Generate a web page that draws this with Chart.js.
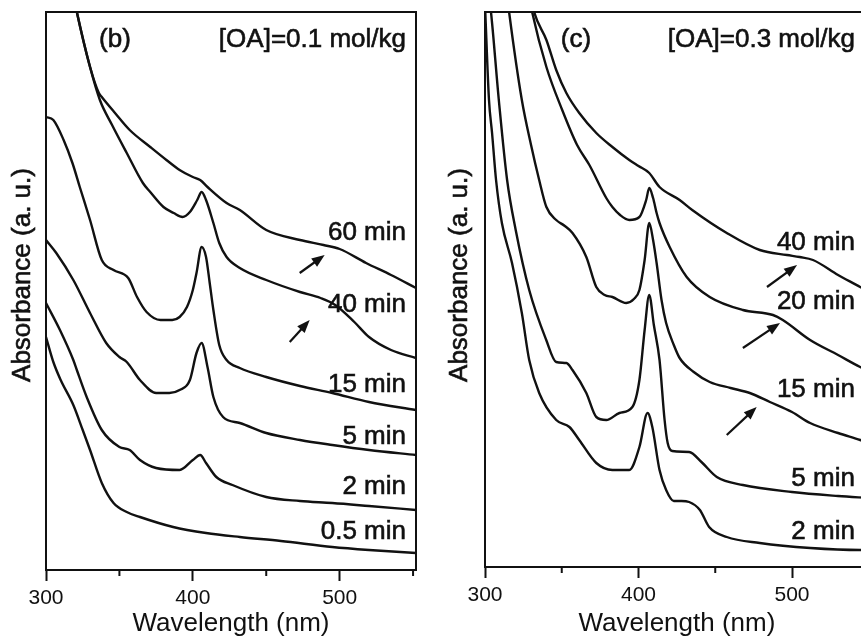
<!DOCTYPE html>
<html>
<head>
<meta charset="utf-8">
<script src="https://cdn.jsdelivr.net/npm/chart.js@4.4.0/dist/chart.umd.min.js"></script>
<style>
  html, body { margin: 0; padding: 0; background: #fff; overflow: hidden; }
  .panel { position: absolute; top: 0; height: 641px; }
  #wrapB { left: 0; width: 430px; }
  #wrapC { left: 430px; width: 450px; }
</style>
</head>
<body>
<div id="wrapB" class="panel"><canvas id="chartB" width="430" height="641"></canvas></div>
<div id="wrapC" class="panel"><canvas id="chartC" width="450" height="641"></canvas></div>
<script>
// x ticks (nm)
const majorTicks = [300, 400, 500];
const minorTicks = [350, 450, 550];

// panel (b): [OA] = 0.1 mol/kg
const b60_nm  = [318, 321, 330, 336, 338, 347, 357, 371, 382, 391, 400, 405, 410, 423, 432, 450, 473, 489, 500, 518, 535, 552];
const b60_abs = [2.90, 2.79, 2.515, 2.385, 2.365, 2.285, 2.20, 2.115, 2.05, 2.00, 1.965, 1.95, 1.915, 1.835, 1.80, 1.70, 1.65, 1.625, 1.605, 1.535, 1.475, 1.41];
const b40_nm  = [318, 321, 330, 336.7, 345, 355, 366, 371, 380, 387, 393, 398, 403, 406, 409, 414, 418, 423, 432, 450, 473, 487, 497, 510, 520, 535, 552];
const b40_abs = [2.90, 2.79, 2.515, 2.35, 2.225, 2.085, 1.935, 1.89, 1.815, 1.785, 1.765, 1.79, 1.85, 1.89, 1.85, 1.735, 1.635, 1.565, 1.51, 1.45, 1.39, 1.36, 1.325, 1.24, 1.165, 1.10, 1.06];
const b15_nm  = [300, 305, 312, 318, 323, 330, 338, 346, 356, 362, 368.5, 378, 386, 391, 396, 400, 402.5, 406, 409, 411.5, 414, 418, 423, 432, 450, 473, 495, 520, 552];
const b15_abs = [2.265, 2.25, 2.15, 2.035, 1.915, 1.75, 1.55, 1.50, 1.46, 1.365, 1.29, 1.25, 1.25, 1.265, 1.315, 1.40, 1.485, 1.615, 1.565, 1.435, 1.30, 1.125, 1.05, 1.01, 0.965, 0.92, 0.885, 0.84, 0.80];
const b5_nm   = [300, 307, 318.6, 330, 341, 350, 355, 364, 375, 384, 391, 398, 402.5, 406, 410, 414, 420.6, 432, 450, 473, 495, 520, 552];
const b5_abs  = [1.65, 1.585, 1.45, 1.285, 1.135, 1.065, 1.04, 0.95, 0.885, 0.885, 0.90, 0.95, 1.085, 1.135, 1.015, 0.865, 0.765, 0.735, 0.685, 0.65, 0.625, 0.60, 0.575];
const b2_nm   = [300, 309.5, 318.6, 321, 327.7, 338, 350, 357, 364, 375, 391, 400, 405, 409, 416, 427, 450, 473, 495, 520, 552];
const b2_abs  = [1.335, 1.20, 1.05, 1.00, 0.865, 0.70, 0.615, 0.60, 0.55, 0.51, 0.50, 0.55, 0.575, 0.535, 0.465, 0.425, 0.365, 0.345, 0.335, 0.32, 0.30];
const b05_nm  = [300, 305, 310, 318.6, 325, 330, 338, 346, 355, 364, 386.6, 409, 432, 460, 495, 520, 552];
const b05_abs = [1.165, 1.04, 0.95, 0.825, 0.70, 0.60, 0.435, 0.335, 0.29, 0.265, 0.215, 0.185, 0.165, 0.145, 0.115, 0.10, 0.085];

const bLabels = ['60 min', '40 min', '15 min', '5 min', '2 min', '0.5 min'];
const bLabelY = [1.685, 1.325, 0.925, 0.665, 0.415, 0.19];
const bArrows = [[472.8, 1.485, 489.8, 1.575], [466, 1.14, 479.6, 1.25]];

// panel (c): [OA] = 0.3 mol/kg
const c40_nm  = [329, 332, 340, 346.4, 353, 361.4, 372.5, 383, 394, 400, 407, 413.7, 426.8, 435, 457.5, 479, 496.7, 505, 513.7, 530, 544.4, 550];
const c40_abs = [2.885, 2.775, 2.635, 2.485, 2.37, 2.27, 2.17, 2.10, 2.035, 2.005, 1.97, 1.90, 1.835, 1.785, 1.67, 1.585, 1.56, 1.55, 1.535, 1.46, 1.40, 1.375];
const c20_nm  = [328, 330.7, 340, 350.3, 360, 368, 379, 383, 388, 394, 400.6, 405, 407, 409.5, 411.8, 413.7, 420.3, 431.4, 446.4, 468, 487.6, 494, 511.8, 530, 544.4, 550];
const c20_abs = [2.885, 2.775, 2.50, 2.285, 2.11, 2.01, 1.845, 1.80, 1.76, 1.735, 1.75, 1.835, 1.895, 1.845, 1.77, 1.72, 1.60, 1.45, 1.35, 1.285, 1.26, 1.235, 1.135, 1.06, 1.00, 0.98];
const c15_nm  = [314, 315.7, 324, 330, 335.3, 340, 346.4, 352, 357, 366, 372.5, 378, 383, 392, 397, 400.6, 404, 407, 409.5, 411.8, 415, 418, 423, 426.8, 436, 446.4, 460, 472.5, 485.6, 500, 511.8, 530, 544.4, 550];
const c15_abs = [2.885, 2.775, 2.335, 2.11, 1.935, 1.80, 1.735, 1.705, 1.67, 1.55, 1.40, 1.36, 1.35, 1.32, 1.34, 1.385, 1.535, 1.72, 1.635, 1.52, 1.335, 1.22, 1.11, 1.045, 0.975, 0.925, 0.895, 0.87, 0.825, 0.775, 0.72, 0.67, 0.635, 0.62];
const c5_nm   = [302, 303.9, 309, 314.4, 320, 328.8, 339.9, 346.4, 353, 357, 366, 372.5, 379, 387.6, 396, 400.6, 404, 407, 410, 413.7, 417, 419, 422, 433, 441, 451, 468, 500, 530, 550];
const c5_abs  = [2.885, 2.775, 2.335, 1.935, 1.685, 1.385, 1.135, 1.025, 1.02, 0.985, 0.87, 0.75, 0.735, 0.77, 0.80, 0.935, 1.185, 1.36, 1.21, 1.035, 0.735, 0.62, 0.58, 0.575, 0.525, 0.45, 0.41, 0.375, 0.355, 0.345];
const c2_nm   = [300, 302.6, 304.6, 307.2, 311, 317.6, 324, 328.8, 335.3, 346.4, 355, 361.4, 372.5, 383, 394, 400.6, 405.9, 409, 413.7, 418, 423, 428, 433, 440, 446, 457.5, 479, 512, 544.5, 550];
const c2_abs  = [2.81, 2.335, 2.17, 1.935, 1.72, 1.52, 1.27, 1.035, 0.87, 0.735, 0.70, 0.635, 0.52, 0.485, 0.485, 0.60, 0.77, 0.70, 0.485, 0.385, 0.33, 0.33, 0.325, 0.285, 0.20, 0.15, 0.12, 0.095, 0.085, 0.085];

const cLabels = ['40 min', '20 min', '15 min', '5 min', '2 min'];
const cLabelY = [1.62, 1.325, 0.885, 0.44, 0.175];
const cArrows = [[483.7, 1.40, 503.3, 1.51], [468, 1.095, 492.2, 1.22], [457.5, 0.66, 477, 0.80]];

const ink = '#111';
const family = '"Liberation Sans", Arial, sans-serif';

// frame, minor ticks, y title, curve labels and arrows
const panelDecor = {
  id: 'panelDecor',
  afterDraw(chart, args, o) {
    const {ctx, chartArea: a, scales: {x, y}} = chart;
    ctx.save();
    ctx.strokeStyle = ink;
    ctx.fillStyle = ink;
    ctx.lineWidth = 2;
    ctx.strokeRect(a.left, a.top, a.right - a.left, a.bottom - a.top);

    minorTicks.forEach(v => {
      const px = x.getPixelForValue(v);
      ctx.beginPath();
      ctx.moveTo(px, a.bottom);
      ctx.lineTo(px, a.bottom + 6);
      ctx.stroke();
    });

    ctx.font = '26px ' + family;
    ctx.textBaseline = 'middle';
    ctx.lineWidth = 0.6;
    const text = (t, px, py) => { ctx.fillText(t, px, py); ctx.strokeText(t, px, py); };

    ctx.save();
    ctx.translate(o.yTitleX, o.yTitleY);
    ctx.rotate(-Math.PI / 2);
    ctx.textAlign = 'center';
    text('Absorbance (a. u.)', 0, 0);
    ctx.restore();

    ctx.textAlign = 'center';
    text(o.tag, x.getPixelForValue(o.tagX), y.getPixelForValue(o.headY));
    ctx.textAlign = 'right';
    text(o.head, x.getPixelForValue(o.labelX), y.getPixelForValue(o.headY));
    o.labels.forEach((t, i) => {
      text(t, x.getPixelForValue(o.labelX), y.getPixelForValue(o.labelY[i]));
    });

    ctx.lineWidth = 2.2;
    o.arrows.forEach(([x1, y1, x2, y2]) => {
      const p1x = x.getPixelForValue(x1), p1y = y.getPixelForValue(y1);
      const p2x = x.getPixelForValue(x2), p2y = y.getPixelForValue(y2);
      const ang = Math.atan2(p2y - p1y, p2x - p1x);
      ctx.beginPath();
      ctx.moveTo(p1x, p1y);
      ctx.lineTo(p2x - 6 * Math.cos(ang), p2y - 6 * Math.sin(ang));
      ctx.stroke();
      ctx.beginPath();
      ctx.moveTo(p2x, p2y);
      ctx.lineTo(p2x - 13 * Math.cos(ang) + 5 * Math.sin(ang), p2y - 13 * Math.sin(ang) - 5 * Math.cos(ang));
      ctx.lineTo(p2x - 13 * Math.cos(ang) - 5 * Math.sin(ang), p2y - 13 * Math.sin(ang) + 5 * Math.cos(ang));
      ctx.closePath();
      ctx.fill();
    });
    ctx.restore();
  }
};

function makePanel(id, cfg) {
  const datasets = cfg.series.map(([nm, abs]) => ({
    data: nm.map((v, i) => ({x: v, y: abs[i]})),
    borderColor: ink,
    borderWidth: 2.4,
    pointRadius: 0,
    fill: false,
    cubicInterpolationMode: 'monotone'
  }));
  return new Chart(document.getElementById(id), {
    type: 'line',
    data: {datasets},
    options: {
      responsive: false,
      animation: false,
      devicePixelRatio: 1,
      layout: {padding: {top: 12, right: cfg.padRight, left: 0, bottom: 0}},
      plugins: {legend: {display: false}, tooltip: {enabled: false}, panelDecor: cfg.decor},
      scales: {
        x: {
          type: 'linear', min: 300, max: cfg.xMax,
          afterBuildTicks: s => { s.ticks = majorTicks.map(v => ({value: v})); },
          afterFit: s => { s.height = cfg.xAxisHeight; },
          ticks: {color: ink, font: {family, size: 21}, padding: 5, maxRotation: 0, autoSkip: false},
          grid: {drawOnChartArea: false, drawTicks: true, tickLength: 11, tickWidth: 2, tickColor: ink},
          border: {display: false},
          title: {display: true, text: 'Wavelength (nm)', color: ink, font: {family, size: 26}, padding: {top: 0, bottom: 2}}
        },
        y: {
          min: 0, max: cfg.yMax,
          afterFit: s => { s.width = cfg.yAxisWidth; },
          ticks: {display: false},
          grid: {display: false},
          border: {display: false}
        }
      }
    },
    plugins: [panelDecor]
  });
}

makePanel('chartB', {
  xMax: 552, yMax: 2.79, yAxisWidth: 46, padRight: 14, xAxisHeight: 71,
  series: [[b60_nm, b60_abs], [b40_nm, b40_abs], [b15_nm, b15_abs], [b5_nm, b5_abs], [b2_nm, b2_abs], [b05_nm, b05_abs]],
  decor: {yTitleX: 23, yTitleY: 275, tag: '(b)', tagX: 347, head: '[OA]=0.1 mol/kg', headY: 2.65,
          labelX: 545.2, labels: bLabels, labelY: bLabelY, arrows: bArrows}
});

makePanel('chartC', {
  xMax: 550, yMax: 2.775, yAxisWidth: 55, padRight: 11.25, xAxisHeight: 74,
  series: [[c40_nm, c40_abs], [c20_nm, c20_abs], [c15_nm, c15_abs], [c5_nm, c5_abs], [c2_nm, c2_abs]],
  decor: {yTitleX: 30, yTitleY: 275, tag: '(c)', tagX: 359.3, head: '[OA]=0.3 mol/kg', headY: 2.635,
          labelX: 541, labels: cLabels, labelY: cLabelY, arrows: cArrows}
});
</script>
</body>
</html>
